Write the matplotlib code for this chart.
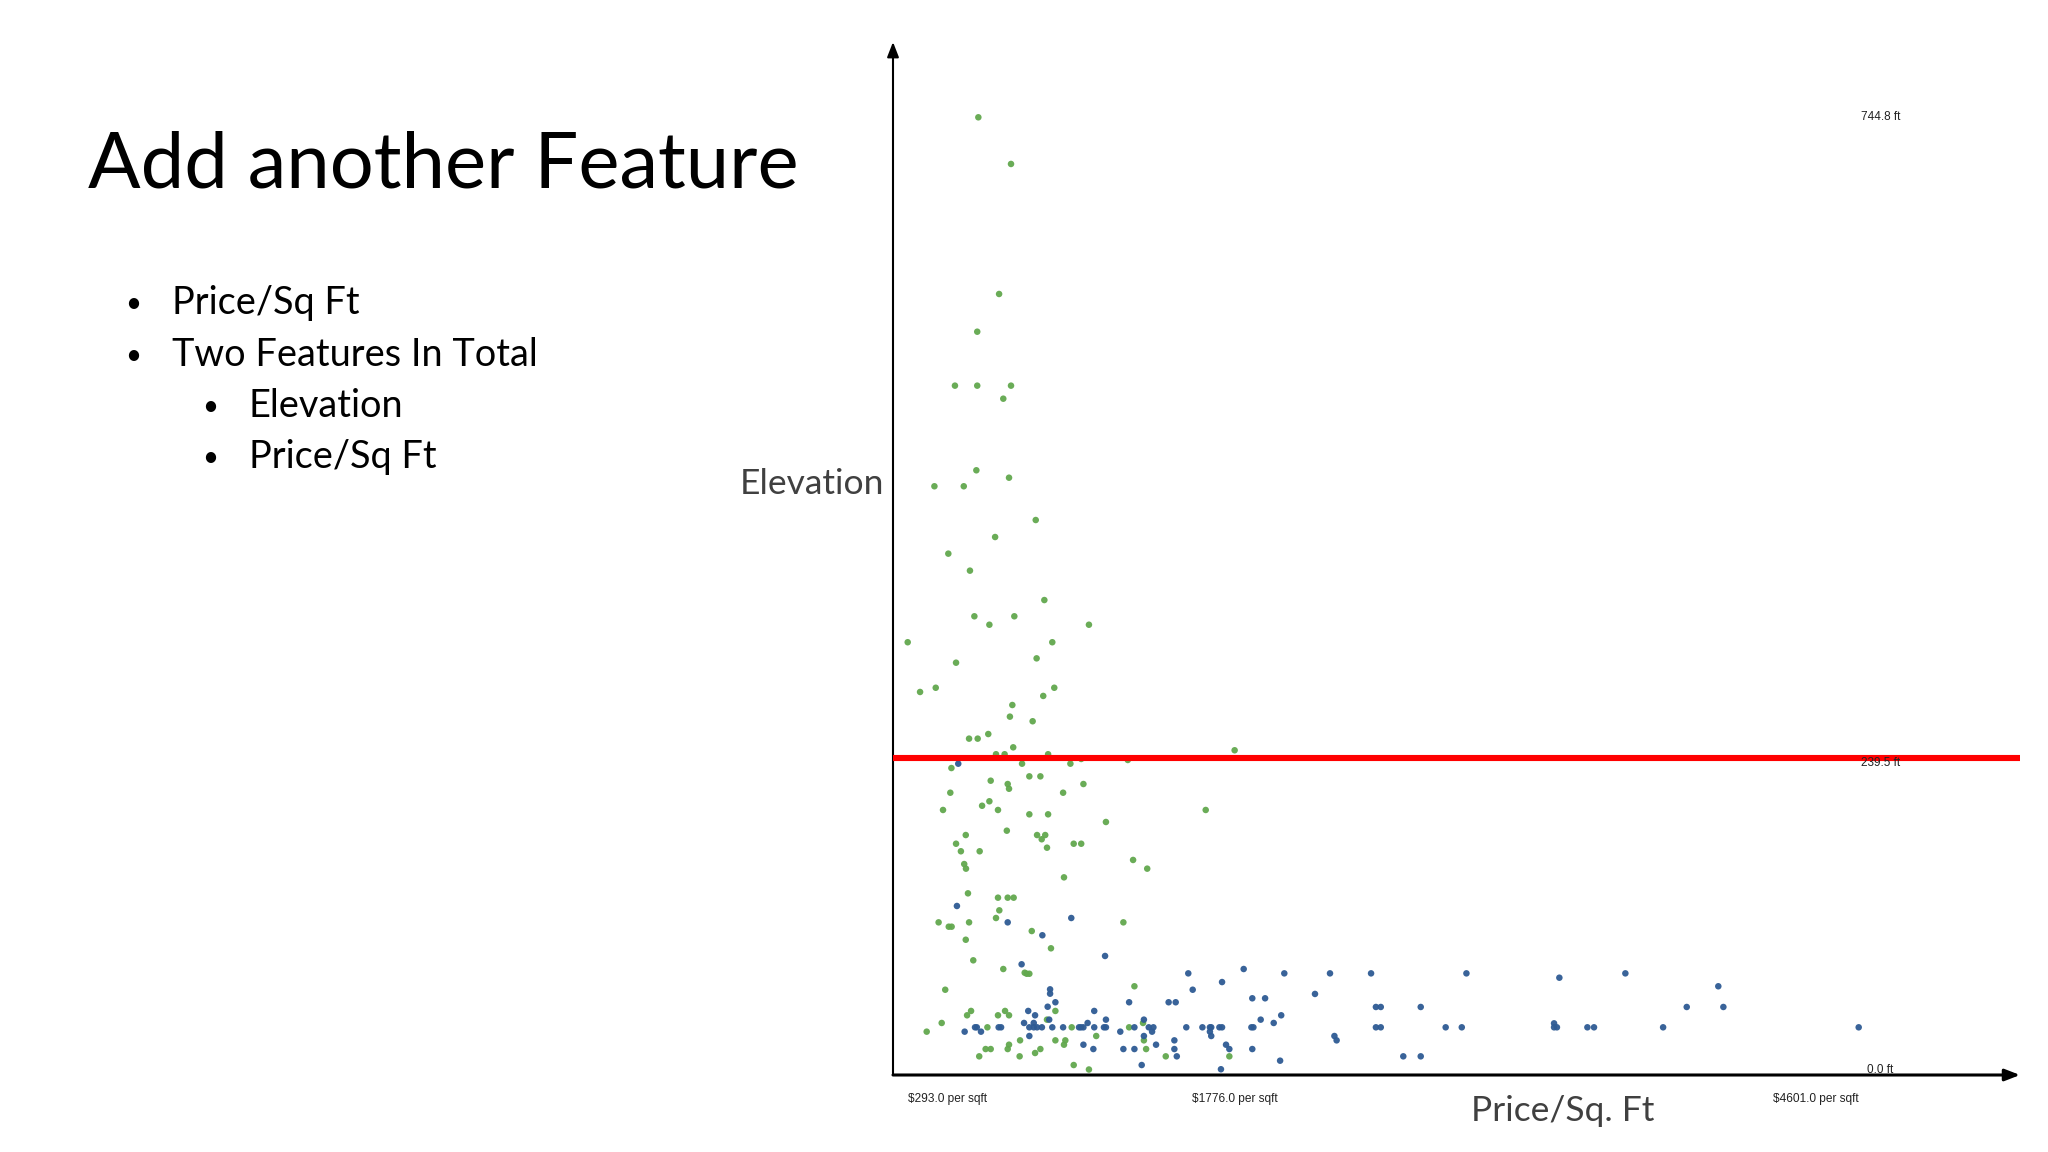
import matplotlib
matplotlib.use("Agg")
import matplotlib.pyplot as plt
from matplotlib.transforms import blended_transform_factory

# ---------------- data (price per sqft, elevation in ft) ----------------
green_price = [613, 761, 707, 608, 507, 608, 761, 726, 604, 752, 414, 547, 873, 689, 477, 575,
               912, 595, 776, 663, 1114, 293, 948, 877, 512, 420, 349, 957, 907, 767, 756, 859,
               571, 610, 658, 771, 693, 732, 929, 491, 811, 1030, 1079, 1290, 669, 746, 752, 844,
               894, 1089, 486, 997, 663, 630, 702, 453, 844, 929, 742, 556, 879, 916, 900, 512,
               534, 619, 924, 1045, 1079, 549, 557, 1001, 1774, 1643, 1191, 1314, 1378, 566, 702, 746,
               773, 708, 693, 433, 479, 492, 571, 855, 556, 942, 590, 726, 823, 832, 844, 463,
               580, 562, 734, 752, 702, 447, 379, 654, 924, 962, 1036, 962, 1007, 1001, 802, 752,
               746, 646, 669, 617, 800, 870, 894, 1045, 1114, 1270, 1320, 1147, 1296, 1359, 1363, 1373,
               1462, 1750]
green_elev = [744.8, 708.3, 606.6, 577.1, 534.9, 534.9, 534.9, 524.7, 468.7, 462.9, 456.2, 456.2, 429.8, 416.5, 403.5, 390.2,
              367.2, 354.5, 354.5, 347.9, 347.9, 334.2, 334.2, 321.6, 318.2, 298.6, 295.3, 298.6, 292.2, 285.1, 276.0, 272.4,
              258.8, 258.8, 262.4, 252.0, 246.6, 246.6, 246.6, 235.8, 239.2, 239.2, 242.9, 242.1, 225.9, 223.3, 219.6, 229.3,
              229.3, 223.3, 216.5, 216.5, 209.8, 206.3, 203.0, 203.0, 199.6, 199.6, 186.8, 183.4, 183.4, 183.4, 180.1, 176.6,
              170.7, 170.7, 173.5, 176.6, 176.6, 160.7, 157.1, 150.3, 249.7, 203.0, 193.6, 163.9, 157.1, 137.8, 134.4, 134.4,
              134.4, 124.5, 118.5, 115.1, 111.7, 111.7, 115.1, 108.3, 101.5, 94.8, 85.4, 78.6, 75.7, 74.9, 74.9, 62.4,
              45.8, 42.4, 45.8, 42.4, 42.4, 36.4, 29.6, 33.0, 39.0, 45.8, 33.0, 22.8, 22.8, 19.4, 22.8, 19.4,
              16.0, 16.0, 16.0, 10.3, 10.3, 12.9, 16.0, 3.5, 0.0, 115.1, 65.1, 26.2, 33.0, 36.4, 22.8, 16.0,
              10.3, 10.3]

blue_price = [522, 516, 746, 1034, 903, 809, 938, 938, 962, 927, 839, 870, 934, 820, 864, 844,
              864, 879, 901, 948, 997, 1069, 1078, 1089, 1108, 598, 606, 705, 716, 551, 625, 844,
              1089, 1187, 1564, 1584, 1717, 1815, 1999, 1854, 1912, 1296, 1475, 1507, 1138, 1191, 1363, 1985,
              1892, 1951, 1138, 1182, 1191, 1320, 1385, 1406, 1400, 1256, 1363, 1555, 1628, 1662, 1668, 1705,
              1717, 1850, 1859, 1662, 1668, 1418, 1134, 1270, 1320, 1501, 1501, 1512, 1735, 1750, 1854, 1353,
              1712, 1980, 2206, 2392, 2824, 3245, 2138, 2414, 2436, 2617, 2414, 2436, 2730, 2803, 3221, 3221,
              3234, 2226, 2236, 2538, 2617, 3544, 3965, 3822, 3988, 3372, 3402, 3715, 4601]
blue_elev = [239.2, 127.9, 115.1, 118.5, 105.0, 82.3, 62.7, 59.3, 52.6, 49.1, 45.8, 42.4, 39.0, 36.4, 36.4, 33.0,
             33.0, 33.0, 33.0, 33.0, 33.0, 33.0, 33.0, 33.0, 36.4, 33.0, 33.0, 33.0, 33.0, 29.6, 29.6, 26.2,
             19.4, 88.8, 75.2, 62.4, 68.4, 78.6, 75.2, 55.7, 55.7, 52.6, 52.6, 52.6, 45.8, 39.0, 39.0, 42.4,
             39.0, 36.4, 33.0, 33.0, 33.0, 33.0, 33.0, 33.0, 29.6, 29.6, 26.2, 33.0, 33.0, 33.0, 33.0, 33.0,
             33.0, 33.0, 33.0, 29.6, 26.2, 19.4, 16.0, 16.0, 16.0, 22.8, 16.0, 10.3, 19.4, 16.0, 16.0, 3.5,
             0.2, 6.9, 75.2, 75.2, 75.2, 71.8, 59.1, 48.9, 48.9, 48.9, 33.0, 33.0, 33.0, 33.0, 36.1, 33.0,
             33.0, 26.2, 22.8, 10.3, 10.3, 75.2, 65.1, 48.9, 48.9, 33.0, 33.0, 33.0, 33.0]

split_line_elev = 244.0   # where the red split line sits in the picture
elev_labels = [(744.8, "744.8 ft"), (239.5, "239.5 ft"), (0.0, "0.0 ft")]
price_ticks = [293, 1776, 4601]
price_tick_labels = ["$293.0 per sqft", "$1776.0 per sqft", "$4601.0 per sqft"]

title = "Add another Feature"
bullets = [("Price/Sq Ft", 0), ("Two Features In Total", 0), ("Elevation", 1), ("Price/Sq Ft", 1)]

GREEN = "#62a84e"
BLUE = "#2e5b94"

W, H = 2048, 1152
fig = plt.figure(figsize=(W / 100, H / 100), dpi=100)
fig.patch.set_facecolor("white")

def fx(px):
    return px / W

def fy(py):
    return 1 - py / H

SLIDE_FONT = ["Lato", "DejaVu Sans"]
SMALL_FONT = ["Liberation Sans Narrow", "Liberation Sans", "DejaVu Sans"]

# ---------------- slide text ----------------
fig.text(fx(88), fy(188), title, fontsize=56, family=SLIDE_FONT, weight="normal",
         color="black", va="baseline", ha="left")
bullet_base = [314, 366, 417, 468]
for (txt, lvl), yb in zip(bullets, bullet_base):
    bx = 125 if lvl == 0 else 202
    tx = 172 if lvl == 0 else 249
    fig.text(fx(bx), fy(yb - 2), "\u2022", fontsize=20, family=SLIDE_FONT, va="baseline", ha="left")
    fig.text(fx(tx), fy(yb), txt, fontsize=27.3, family=SLIDE_FONT, va="baseline", ha="left")

# ---------------- scatter axes ----------------
x_left, x_right, y_top, y_bot = 893, 2020, 42, 1075
ax = fig.add_axes([fx(x_left), fy(y_bot), (x_right - x_left) / W, (y_bot - y_top) / H])
ax.set_xlim(226.4, 5331.7)
ax.set_ylim(-4.3, 803.7)
ax.set_facecolor("white")
for s in ax.spines.values():
    s.set_visible(False)

ax.scatter(green_price, green_elev, s=22, color=GREEN, edgecolors="none", alpha=0.95, zorder=3)
ax.scatter(blue_price, blue_elev, s=22, color=BLUE, edgecolors="none", alpha=0.95, zorder=3)

ax.axhline(split_line_elev, xmin=0.003, xmax=1.0, color="#ff0000", lw=4.4, zorder=4)

# axis arrows
ax.annotate("", xy=(0, 1), xytext=(0, 0), xycoords="axes fraction",
            arrowprops=dict(arrowstyle="-|>,head_length=0.9,head_width=0.35", color="black", lw=1.5,
                            shrinkA=0, shrinkB=0))
ax.annotate("", xy=(1, 0), xytext=(0, 0), xycoords="axes fraction",
            arrowprops=dict(arrowstyle="-|>,head_length=0.9,head_width=0.35", color="black", lw=2.2,
                            shrinkA=0, shrinkB=0))

# x tick labels
ax.set_xticks(price_ticks)
ax.set_xticklabels(price_tick_labels, family=SMALL_FONT, fontsize=8.6, color="#222222")
for lab, ha in zip(ax.get_xticklabels(), ["left", "center", "right"]):
    lab.set_ha(ha)
ax.tick_params(axis="x", length=0, pad=13)
ax.set_yticks([])

# elevation labels inside the plot
tr = blended_transform_factory(ax.transAxes, ax.transData)
for val, lab in elev_labels:
    ax.text(0.876, val, lab, transform=tr, ha="center", va="center", family=SMALL_FONT,
            fontsize=8.5, color="#222222", zorder=5)

# axis titles
fig.text(fx(884), fy(494), "Elevation", fontsize=25.5, family=SLIDE_FONT, color="#404040",
         ha="right", va="baseline")
fig.text(fx(1563), fy(1121), "Price/Sq. Ft", fontsize=25.5, family=SLIDE_FONT, color="#404040",
         ha="center", va="baseline")

fig.savefig("out.png", dpi=100, facecolor="white")
